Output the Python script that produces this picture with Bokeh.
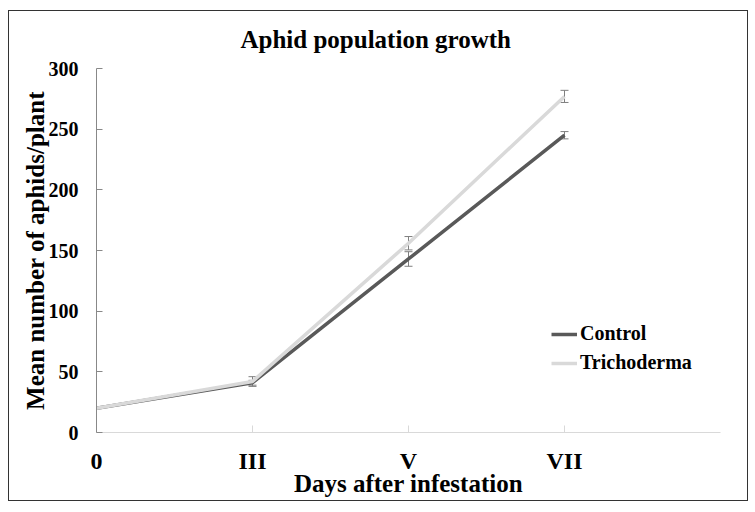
from bokeh.plotting import figure
from bokeh.models import (Range1d, FixedTicker, Whisker, TeeHead, ColumnDataSource,
                          Legend, LegendItem)
from bokeh.embed import file_html
from bokeh.resources import INLINE

# ---- data ----
days = ["0", "III", "V", "VII"]
control = [20, 41, 143, 245]
control_err = [0, 2, 6, 3]
tricho = [20, 42, 156, 277]
tricho_err = [0, 4, 5.5, 5]
y_ticks = [0, 50, 100, 150, 200, 250, 300]

FONT = "Liberation Serif"
xs = list(range(len(days)))

p = figure(width=740, height=491, output_backend="svg", toolbar_location=None,
           x_range=Range1d(0, len(days)), y_range=Range1d(0, 300),
           min_border_left=87, min_border_top=57, min_border_right=29,
           min_border_bottom=70)
p.styles = {"border": "1px solid #333333", "margin-left": "8px", "margin-top": "10px"}
p.outline_line_color = None
p.xgrid.visible = False
p.ygrid.visible = False

p.title.text = "Aphid population growth"
p.title.align = "left"
p.title.offset = 144
p.title.vertical_align = "top"
p.title.standoff = 27
p.title.text_font = FONT
p.title.text_font_style = "bold"
p.title.text_font_size = "25px"
p.title.text_color = "black"

# x axis
xa = p.xaxis[0]
xa.ticker = FixedTicker(ticks=xs)
xa.major_label_overrides = {i: d for i, d in enumerate(days)}
xa.minor_tick_line_color = None
xa.axis_line_color = "#d9d9d9"
xa.major_tick_line_color = "#d9d9d9"
xa.major_tick_in = 7
xa.major_tick_out = 0
xa.major_label_standoff = 15
xa.major_label_text_font = FONT
xa.major_label_text_font_style = "bold"
xa.major_label_text_font_size = "24px"
xa.major_label_text_color = "black"
xa.axis_label = "Days after infestation"
xa.axis_label_text_font = FONT
xa.axis_label_text_font_style = "bold"
xa.axis_label_text_font_size = "25px"
xa.axis_label_text_color = "black"
xa.axis_label_standoff = -7

# y axis
ya = p.yaxis[0]
ya.ticker = FixedTicker(ticks=y_ticks)
ya.minor_tick_line_color = None
ya.axis_line_color = "#888888"
ya.major_tick_line_color = "#888888"
ya.major_tick_in = 6
ya.major_tick_out = 0
ya.major_label_standoff = 18
ya.major_label_text_font = FONT
ya.major_label_text_font_style = "bold"
ya.major_label_text_font_size = "20px"
ya.major_label_text_color = "black"
ya.axis_label = "Mean number of aphids/plant"
ya.axis_label_text_font = FONT
ya.axis_label_text_font_style = "bold"
ya.axis_label_text_font_size = "25px"
ya.axis_label_text_color = "black"
ya.axis_label_standoff = -3

# series
src_c = ColumnDataSource(dict(x=xs, y=control,
                              lo=[v - e for v, e in zip(control, control_err)],
                              hi=[v + e for v, e in zip(control, control_err)]))
src_t = ColumnDataSource(dict(x=xs, y=tricho,
                              lo=[v - e for v, e in zip(tricho, tricho_err)],
                              hi=[v + e for v, e in zip(tricho, tricho_err)]))

r_c = p.line("x", "y", source=src_c, line_color="#595959", line_width=3.5)
r_t = p.line("x", "y", source=src_t, line_color="#d9d9d9", line_width=3.5)

for src in (src_c, src_t):
    w = Whisker(base="x", lower="lo", upper="hi", source=src,
                line_color="#7f7f7f", line_width=1,
                upper_head=TeeHead(size=8, line_color="#7f7f7f", line_width=1),
                lower_head=TeeHead(size=8, line_color="#7f7f7f", line_width=1))
    p.add_layout(w)

legend = Legend(items=[LegendItem(label="Control", renderers=[r_c]),
                       LegendItem(label="Trichoderma", renderers=[r_t])],
                location=(455, 58), background_fill_alpha=0, border_line_color=None,
                padding=0, margin=0, spacing=6, glyph_width=26, glyph_height=20,
                label_height=20, label_standoff=3,
                label_text_font=FONT, label_text_font_style="bold",
                label_text_font_size="20px", label_text_color="black")
p.add_layout(legend)

open("out.html", "w").write(file_html(p, INLINE))
